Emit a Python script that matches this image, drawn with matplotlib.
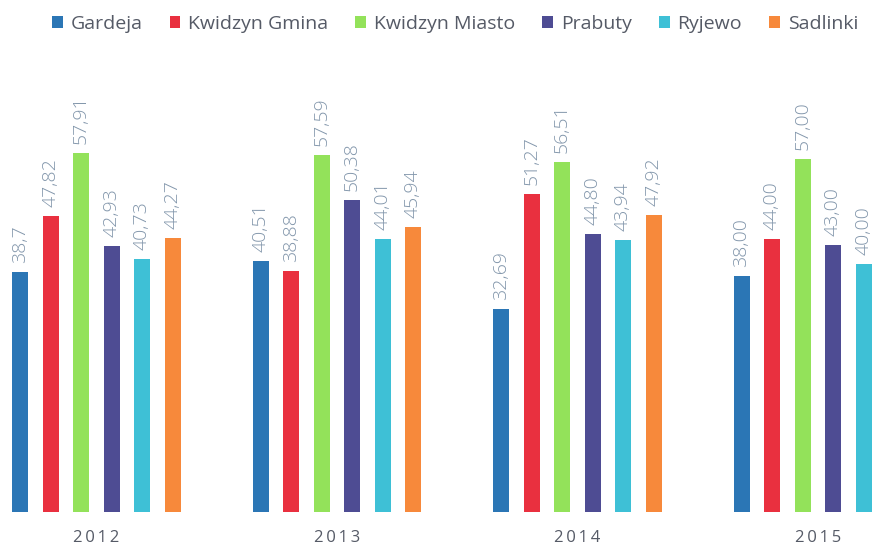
import numpy as np
import matplotlib.pyplot as plt
from matplotlib.patches import Patch

# data
years = ['2012', '2013', '2014', '2015']
gminy = ['Gardeja', 'Kwidzyn Gmina', 'Kwidzyn Miasto', 'Prabuty', 'Ryjewo', 'Sadlinki']
gardeja = [38.70, 40.51, 32.69, 38.00]
kwidzyn_gmina = [47.82, 38.88, 51.27, 44.00]
kwidzyn_miasto = [57.91, 57.59, 56.51, 57.00]
prabuty = [42.93, 50.38, 44.80, 43.00]
ryjewo = [40.73, 44.01, 43.94, 40.00]
sadlinki = [44.27, 45.94, 47.92, None]
labels = [
    ['38,7', '40,51', '32,69', '38,00'],
    ['47,82', '38,88', '51,27', '44,00'],
    ['57,91', '57,59', '56,51', '57,00'],
    ['42,93', '50,38', '44,80', '43,00'],
    ['40,73', '44,01', '43,94', '40,00'],
    ['44,27', '45,94', '47,92', ''],
]
colors = ['#2b76b5', '#e9303f', '#93e25a', '#4e4c93', '#3ec0d6', '#f7893b']

series = [gardeja, kwidzyn_gmina, kwidzyn_miasto, prabuty, ryjewo, sadlinki]

plt.rcParams['font.family'] = ['Open Sans', 'DejaVu Sans']

W, H = 877, 548
fig = plt.figure(figsize=(W / 100, H / 100), dpi=100)
fig.patch.set_facecolor('white')

# axes cover full width; baseline at y=512 px
base_px = 512
px_per_unit = 6.2
ax = fig.add_axes([0, 1 - base_px / H, 1, base_px / H])
ax.set_ylim(0, base_px / px_per_unit)

grp = 240.5           # px between groups
slot = 30.5           # px between bars
bw = 16               # bar width px
c0 = 20 + 2.5 * slot  # px of group 0 centre
ax.set_xlim(-c0 / grp, (W - c0) / grp)

x = np.arange(len(years))
for j, (vals, col) in enumerate(zip(series, colors)):
    off = (j - 2.5) * slot / grp
    for i, v in enumerate(vals):
        if v is None:
            continue
        ax.bar(x[i] + off, v, width=bw / grp, color=col, linewidth=0)
        ax.text(x[i] + off, v + 9 / px_per_unit, labels[j][i], rotation=90,
                ha='center', va='bottom', fontsize=14, color='#8296ab',
                fontweight='light')

for i, y in enumerate(years):
    ax.text(x[i], -26 / px_per_unit, '\u2009'.join(y),
            ha='center', va='center', fontsize=12, color='#555a66',
            clip_on=False)

for s in ax.spines.values():
    s.set_visible(False)
ax.set_xticks([])
ax.set_yticks([])

handles = [Patch(facecolor=c, edgecolor='none') for c in colors]
fig.legend(handles, gminy, loc='center', bbox_to_anchor=(455 / W, 1 - 24 / H),
           ncol=6, frameon=False, fontsize=14, handlelength=0.55,
           handleheight=0.55, handletextpad=0.4, columnspacing=1.4,
           labelcolor='#555a66')

fig.savefig('out.png', dpi=100, facecolor='white')
